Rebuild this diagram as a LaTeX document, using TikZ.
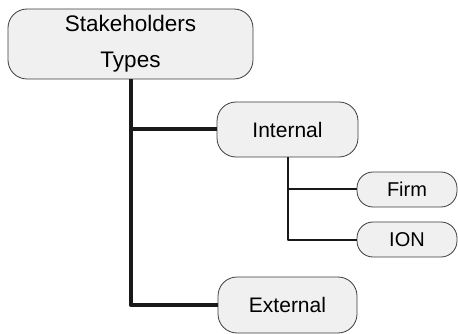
\documentclass[tikz,border=0pt]{standalone}
\usepackage{fontspec}
\setmainfont{Liberation Sans}
\usepackage{tikz}
\definecolor{box-fill}{RGB}{240,240,240}
\definecolor{box-line}{RGB}{60,60,60}

\begin{document}
\begin{tikzpicture}[x=1pt, y=-1pt,
	stbox/.style={draw=box-line, fill=box-fill, line width=0.8pt, rectangle, rounded corners=19pt, inner sep=0pt, font=\fontsize{21}{24}\selectfont},
	leafbox/.style={stbox, rounded corners=16pt, minimum width=100pt, minimum height=35pt, font=\fontsize{20}{24}\selectfont},
	thickline/.style={line width=4pt, line join=round, color=black!90},
	thinline/.style={line width=2pt, line join=round, color=black!90}]
\useasboundingbox (0 ,0) rectangle (458 ,334);
% boxes
\node [stbox, minimum width=245pt, minimum height=70pt, align=center, font=\fontsize{22.5}{36}\selectfont] (types) at (130.5 ,44) {Stakeholders\\Types};
\node [stbox, minimum width=141pt, minimum height=55pt] (internal) at (287.5 ,129.5) {Internal};
\node [stbox, minimum width=139pt, minimum height=56pt] (external) at (287.5 ,305) {External};
\node [leafbox] (firm) at (407 ,189.5) {Firm};
\node [leafbox] (ion) at (407 ,239.5) {ION};
% connectors
\draw [thickline] (types.south) -- (types.south |- external.west) -- (external.west);
\draw [thickline] (types.south |- internal.west) -- (internal.west);
\draw [thinline] (internal.south) -- (internal.south |- ion.west) -- (ion.west);
\draw [thinline] (internal.south |- firm.west) -- (firm.west);
\end{tikzpicture}
\end{document}
